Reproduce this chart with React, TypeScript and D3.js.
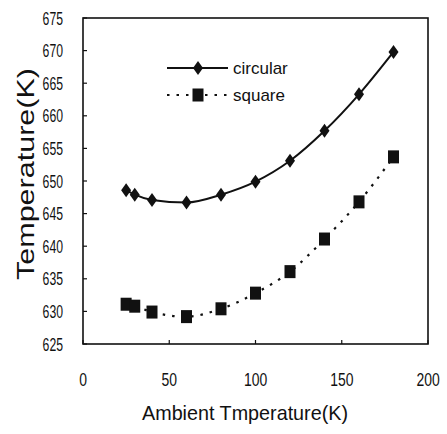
import React from "react";
import * as d3 from "d3";

const ambient = [25, 30, 40, 60, 80, 100, 120, 140, 160, 180];
const circular = [648.6, 647.9, 647.1, 646.7, 647.9, 649.9, 653.1, 657.7, 663.3, 669.8];
const square = [631.1, 630.8, 629.9, 629.2, 630.4, 632.8, 636.1, 641.1, 646.8, 653.7];
const xTicks = [0, 50, 100, 150, 200];
const yTicks = [625, 630, 635, 640, 645, 650, 655, 660, 665, 670, 675];
const seriesNames = ["circular", "square"];
const xTitle = "Ambient Tmperature(K)";
const yTitle = "Temperature(K)";

const W = 447;
const H = 434;
const left = 83;
const right = 428;
const top = 18;
const bottom = 344;
const FONT = "'Liberation Sans', Arial, Helvetica, sans-serif";

export default function App() {
  const x = d3.scaleLinear().domain([0, 200]).range([left, right]);
  const y = d3.scaleLinear().domain([625, 675]).range([bottom, top]);

  const lineGen = d3
    .line<[number, number]>()
    .x((d) => x(d[0]))
    .y((d) => y(d[1]))
    .curve(d3.curveMonotoneX);

  const cPts: [number, number][] = ambient.map((a, i) => [a, circular[i]]);
  const sPts: [number, number][] = ambient.map((a, i) => [a, square[i]]);

  const diamond = (cx: number, cy: number, key: string) => (
    <path
      key={key}
      d={`M${cx},${cy - 7} L${cx + 5},${cy} L${cx},${cy + 7} L${cx - 5},${cy} Z`}
      fill="#111"
    />
  );
  const sq = (cx: number, cy: number, key: string) => (
    <rect key={key} x={cx - 5.5} y={cy - 6.5} width={11} height={13} fill="#111" />
  );

  return (
    <svg
      width={W}
      height={H}
      style={{ position: "absolute", left: 0, top: 0, background: "#fff" }}
      fontFamily={FONT}
    >
      <rect x={0} y={0} width={W} height={H} fill="#fff" />
      {/* frame */}
      <rect
        x={left}
        y={top}
        width={right - left}
        height={bottom - top}
        fill="none"
        stroke="#111"
        strokeWidth={1.6}
      />
      {/* y ticks */}
      {yTicks.map((t) => (
        <g key={"y" + t}>
          <line x1={left} x2={left + 4} y1={y(t)} y2={y(t)} stroke="#111" strokeWidth={1.2} />
          <text
            transform={`translate(63,${y(t)}) scale(0.72,1.08)`}
            dy="0.36em"
            textAnchor="end"
            fontSize={17}
            fill="#111"
          >
            {t}
          </text>
        </g>
      ))}
      {/* x ticks */}
      {xTicks.map((t) => (
        <g key={"x" + t}>
          <line x1={x(t)} x2={x(t)} y1={bottom} y2={bottom - 4} stroke="#111" strokeWidth={1.2} />
          <text
            transform={`translate(${x(t)},386) scale(0.82,1.1)`}
            textAnchor="middle"
            fontSize={17}
            fill="#111"
          >
            {t}
          </text>
        </g>
      ))}
      {/* titles */}
      <text
        x={245}
        y={420}
        textAnchor="middle"
        fontSize={21}
        fill="#111"
        textLength={206}
        lengthAdjust="spacingAndGlyphs"
      >
        {xTitle}
      </text>
      <text
        transform={`translate(34,174) rotate(-90)`}
        textAnchor="middle"
        fontSize={24}
        fill="#111"
        textLength={212}
        lengthAdjust="spacingAndGlyphs"
      >
        {yTitle}
      </text>
      {/* series */}
      <path d={lineGen(cPts) || ""} fill="none" stroke="#111" strokeWidth={2} />
      <path
        d={lineGen(sPts) || ""}
        fill="none"
        stroke="#111"
        strokeWidth={2.2}
        strokeDasharray="2.5 7"
      />
      {cPts.map((p, i) => diamond(x(p[0]), y(p[1]), "c" + i))}
      {sPts.map((p, i) => sq(x(p[0]), y(p[1]), "s" + i))}
      {/* legend */}
      <line x1={167} x2={228} y1={68} y2={68} stroke="#111" strokeWidth={2} />
      {diamond(198, 68, "lc")}
      <text x={233} y={74} fontSize={17} fill="#111">
        {seriesNames[0]}
      </text>
      <line x1={167} x2={228} y1={95} y2={95} stroke="#111" strokeWidth={2.2} strokeDasharray="2.5 7" />
      {sq(198, 95, "ls")}
      <text x={233} y={101} fontSize={17} fill="#111">
        {seriesNames[1]}
      </text>
    </svg>
  );
}
